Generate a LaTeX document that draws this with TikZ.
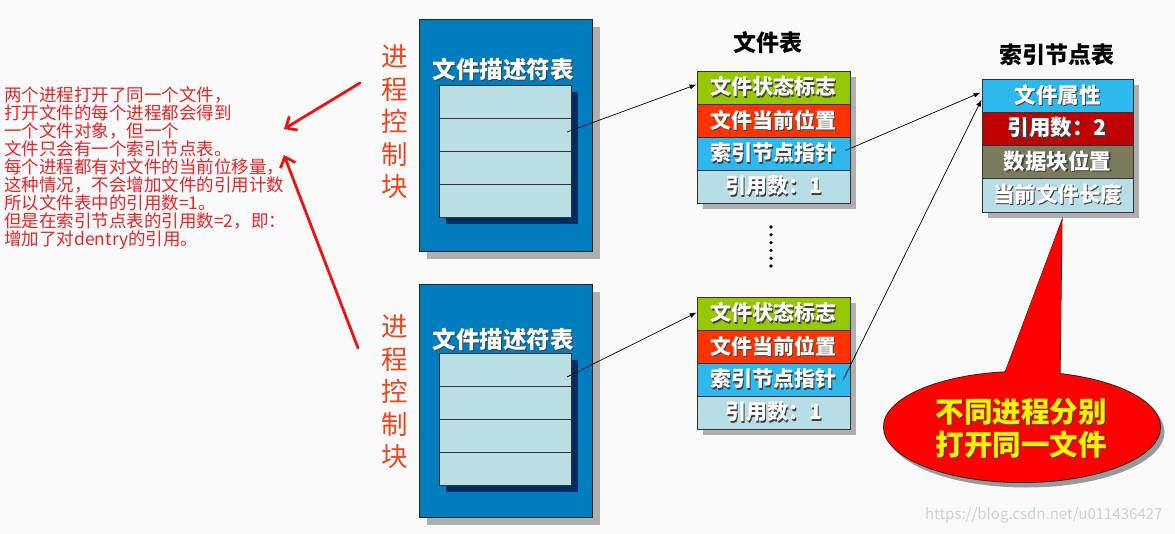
\documentclass[tikz,border=0pt]{standalone}
\usepackage{fontspec}
\setmainfont{Noto Sans CJK SC}
\usetikzlibrary{arrows.meta,calc,shapes.geometric}
\definecolor{pcbblue}{RGB}{0,125,190}
\definecolor{cellcyan}{RGB}{185,222,228}
\definecolor{navy}{RGB}{0,45,95}
\definecolor{fgreen}{RGB}{150,200,0}
\definecolor{forange}{RGB}{255,51,0}
\definecolor{fblue}{RGB}{45,185,238}
\definecolor{flight}{RGB}{183,221,230}
\definecolor{idred}{RGB}{192,0,0}
\definecolor{olive}{RGB}{122,122,92}
\definecolor{vred}{RGB}{235,70,30}
\definecolor{nred}{RGB}{232,36,40}
\definecolor{arrred}{RGB}{235,20,20}
\definecolor{shadowgray}{RGB}{175,175,175}
\newcommand\shtxt[2]{\makebox[0pt][l]{\hspace{1.3pt}\raisebox{-1.3pt}{\textcolor{black!75}{#2}}}\textcolor{#1}{#2}}
\tikzset{
  pcbbox/.style={draw=black!85,line width=0.8pt,fill=pcbblue,minimum width=173pt,inner sep=0pt},
  desccell/.style={draw=black!80,line width=0.8pt,fill=cellcyan,minimum width=132pt,minimum height=33pt,inner sep=0pt},
  ftcell/.style={draw=black!80,line width=0.8pt,minimum width=153pt,minimum height=33pt,inner sep=0pt,font=\fontsize{21}{22}\selectfont\bfseries},
  idcell/.style={draw=black!80,line width=0.8pt,minimum width=151pt,minimum height=33pt,inner sep=0pt,font=\fontsize{21.5}{22}\selectfont\bfseries},
  ttl/.style={font=\fontsize{23}{24}\selectfont\bfseries,text=black},
  dtitle/.style={font=\fontsize{23.5}{24}\selectfont\bfseries},
  vlabel/.style={font=\fontsize{26.5}{32.5}\selectfont,text=vred,align=center},
  ptr/.style={line width=0.7pt,-{Latex[length=7pt,width=5pt]}},
  redarr/.style={arrred,line width=2.8pt,line cap=round,-{Straight Barb[length=9pt,width=16pt]}}
}
\begin{document}
\begin{tikzpicture}[x=1pt,y=-1pt]
\useasboundingbox (0,0) rectangle (1175,534);
\fill[black!2] (0,0) rectangle (1175,534);

% ---------- process control blocks ----------
\fill[shadowgray] (427,27) rectangle (600,259);
\node[pcbbox,minimum height=232pt] (pcb1) at (505.5,135) {};
\node[dtitle] (d1t) at (503,70) {\shtxt{white}{文件描述符表}};
\fill[navy] (446,92) rectangle (578,224);
\node[desccell] (d1r1) at (505,101.5) {};
\node[desccell] (d1r2) at (505,134.5) {};
\node[desccell] (d1r3) at (505,167.5) {};
\node[desccell] (d1r4) at (505,200.5) {};
\node[vlabel] (v1) at (395,122) {进\\程\\控\\制\\块};

\fill[shadowgray] (427,292) rectangle (600,525);
\node[pcbbox,minimum height=233pt] (pcb2) at (505.5,400.5) {};
\node[dtitle] (d2t) at (503,340) {\shtxt{white}{文件描述符表}};
\fill[navy] (446,360) rectangle (578,492);
\node[desccell] (d2r1) at (505,369.5) {};
\node[desccell] (d2r2) at (505,402.5) {};
\node[desccell] (d2r3) at (505,435.5) {};
\node[desccell] (d2r4) at (505,468.5) {};
\node[vlabel] (v2) at (395,392) {进\\程\\控\\制\\块};

% ---------- file tables ----------
\node[ttl] (ftt) at (768,43) {文件表};
\fill[shadowgray] (703,77) rectangle (856,209);
\node[ftcell,fill=fgreen] (f1r1) at (773.5,87.5) {\shtxt{white}{文件状态标志}};
\node[ftcell,fill=forange] (f1r2) at (773.5,120.5) {\shtxt{white}{文件当前位置}};
\node[ftcell,fill=fblue] (f1r3) at (773.5,153.5) {\shtxt{white}{索引节点指针}};
\node[ftcell,fill=flight] (f1r4) at (773.5,186.5) {\shtxt{white}{引用数：1}};

\foreach \k in {0,...,5} \fill[black] (771,227+7.8*\k) circle (1.8);

\fill[shadowgray] (703,303) rectangle (856,435);
\node[ftcell,fill=fgreen] (f2r1) at (773.5,313.5) {\shtxt{white}{文件状态标志}};
\node[ftcell,fill=forange] (f2r2) at (773.5,346.5) {\shtxt{white}{文件当前位置}};
\node[ftcell,fill=fblue] (f2r3) at (773.5,379.5) {\shtxt{white}{索引节点指针}};
\node[ftcell,fill=flight] (f2r4) at (773.5,412.5) {\shtxt{white}{引用数：1}};

% ---------- inode table ----------
\node[ttl] (itt) at (1057,55) {索引节点表};
\fill[shadowgray] (988,85) rectangle (1139,218);
\node[idcell,fill=fblue] (i1) at (1057.5,95.5) {\shtxt{white}{文件属性}};
\node[idcell,fill=idred] (i2) at (1057.5,128.5) {\shtxt{white}{引用数：2}};
\node[idcell,fill=olive] (i3) at (1057.5,161.5) {\shtxt{white}{数据块位置}};
\node[idcell,fill=flight,minimum height=34pt] (i4) at (1057.5,195) {\shtxt{white}{当前文件长度}};

% ---------- pointers ----------
\draw[ptr] ($(d1r2.center)+(62,-2.5)$) -- ($(f1r1.west)+(0,-3)$);
\draw[ptr] ($(f1r3.east)+(-5,-3)$) -- ($(i1.west)+(-1,-3)$);
\draw[ptr] ($(d2r1.center)+(62,7.5)$) -- ($(f2r1.west)+(0,-1)$);
\draw[ptr] ($(f2r3.east)+(-7,0)$) -- ($(i1.west)+(0,4)$);

% ---------- callout ----------
\coordinate (tip) at (1062,220);
\coordinate (cb1) at (1003,378);
\coordinate (cb2) at (1060,378);
\begin{scope}[shift={(4,5)}]
  \fill[black!40] (1022,427) ellipse [x radius=138.5,y radius=55.5];
  \fill[black!40] (cb1) -- (tip) -- (cb2) -- cycle;
\end{scope}
\node[ellipse,draw=black!85,line width=1pt,fill=red,minimum width=277pt,minimum height=111pt,inner sep=0pt] (call) at (1022,427) {};
\draw[black!85,line width=1pt,fill=red] (cb1) -- (tip) -- (cb2);
\fill[red] (1022,427) ellipse [x radius=138,y radius=55];
\fill[red] (cb1) -- (tip) -- (cb2) -- cycle;
\node[font=\fontsize{28.5}{33}\selectfont\bfseries,align=center] (calltxt) at (1021,429) {\shtxt{yellow}{不同进程分别}\\\shtxt{yellow}{打开同一文件}};

% ---------- note ----------
\node[anchor=north west,align=left,inner sep=0pt,text=nred,font=\fontsize{17.5}{18.1}\selectfont] (note) at (4,86)
{两个进程打开了同一个文件，\\打开文件的每个进程都会得到\\一个文件对象，但一个\\文件只会有一个索引节点表。\\每个进程都有对文件的当前位移量，\\这种情况，不会增加文件的引用计数\\所以文件表中的引用数=1。\\但是在索引节点表的引用数=2，即：\\增加了对dentry的引用。};

\coordinate (ra1s) at (360,83);
\coordinate (ra1e) at (284,129);
\coordinate (ra2s) at (358,348);
\coordinate (ra2e) at (284,155);
\draw[redarr] (ra1s) -- (ra1e);
\draw[redarr] (ra2s) -- (ra2e);

% ---------- watermark ----------
\node[text=black!18,font=\fontsize{15}{16}\selectfont,anchor=east] (wm) at (1166,515) {https://blog.csdn.net/u011436427};
\end{tikzpicture}
\end{document}
